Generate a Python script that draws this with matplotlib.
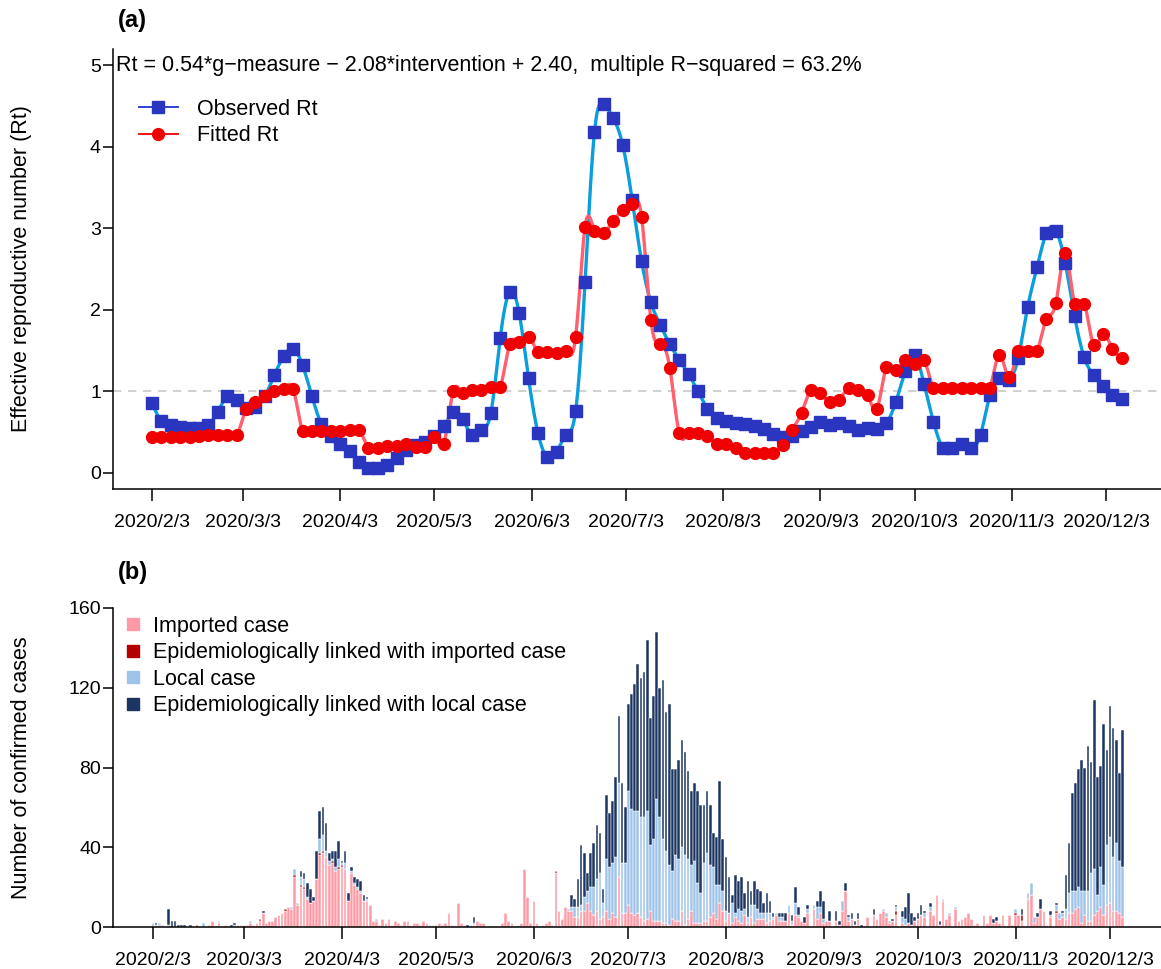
import numpy as np
import pandas as pd
import matplotlib
matplotlib.use("Agg")
import matplotlib.pyplot as plt
from matplotlib.lines import Line2D

plt.rcParams['font.family'] = ['Liberation Sans', 'DejaVu Sans']

# ---- panel (a): Rt every 3 days starting 2020/2/3 ----
start = pd.Timestamp("2020-02-03")
rt_step = 3

observed_rt = [0.86, 0.64, 0.59, 0.56, 0.55, 0.55, 0.59, 0.75, 0.94, 0.89,
               0.80, 0.81, 0.94, 1.20, 1.43, 1.52, 1.32, 0.94, 0.60, 0.45,
               0.36, 0.27, 0.14, 0.06, 0.06, 0.10, 0.18, 0.28, 0.34, 0.38,
               0.45, 0.57, 0.75, 0.66, 0.47, 0.53, 0.74, 1.66, 2.22, 1.96,
               1.16, 0.49, 0.19, 0.26, 0.47, 0.76, 2.34, 4.18, 4.52, 4.35,
               4.02, 3.35, 2.60, 2.09, 1.81, 1.58, 1.39, 1.21, 1.00, 0.79,
               0.67, 0.64, 0.61, 0.60, 0.58, 0.54, 0.48, 0.44, 0.45, 0.51,
               0.56, 0.62, 0.59, 0.61, 0.58, 0.53, 0.55, 0.54, 0.61, 0.87,
               1.25, 1.45, 1.09, 0.63, 0.31, 0.31, 0.36, 0.31, 0.47, 0.96,
               1.16, 1.14, 1.41, 2.03, 2.52, 2.94, 2.97, 2.57, 1.92, 1.42,
               1.20, 1.06, 0.96, 0.91]

fitted_rt = [0.44, 0.44, 0.44, 0.44, 0.44, 0.45, 0.46, 0.46, 0.46, 0.46,
             0.78, 0.87, 0.94, 1.01, 1.03, 1.03, 0.51, 0.51, 0.51, 0.51,
             0.52, 0.53, 0.53, 0.31, 0.31, 0.33, 0.33, 0.36, 0.32, 0.32,
             0.44, 0.36, 1.00, 0.98, 1.02, 1.02, 1.05, 1.05, 1.58, 1.61,
             1.67, 1.48, 1.48, 1.47, 1.49, 1.67, 3.02, 2.97, 2.94, 3.09,
             3.22, 3.30, 3.14, 1.87, 1.58, 1.29, 0.49, 0.49, 0.49, 0.45,
             0.36, 0.36, 0.31, 0.25, 0.25, 0.25, 0.25, 0.34, 0.53, 0.74,
             1.02, 0.98, 0.87, 0.90, 1.04, 1.02, 0.96, 0.79, 1.30, 1.26,
             1.38, 1.34, 1.38, 1.04, 1.04, 1.04, 1.04, 1.04, 1.04, 1.04,
             1.45, 1.18, 1.49, 1.49, 1.49, 1.89, 2.08, 2.69, 2.07, 2.07,
             1.57, 1.70, 1.52, 1.41]

# ---- panel (b): daily confirmed cases from 2020/2/3, ten days per line ----
imported = [
    0, 0, 1, 0, 0, 0, 0, 0, 0, 0,
    0, 0, 0, 0, 0, 0, 0, 0, 1, 3,
    0, 2, 0, 1, 0, 0, 0, 1, 1, 1,
    1, 2, 1, 2, 3, 7, 2, 3, 3, 5,
    6, 7, 8, 10, 9, 25, 11, 20, 19, 14,
    12, 13, 24, 36, 37, 35, 31, 32, 28, 29,
    30, 29, 13, 27, 21, 19, 17, 13, 13, 11,
    3, 3, 1, 4, 2, 4, 1, 3, 2, 1,
    3, 3, 1, 2, 2, 1, 3, 2, 0, 1,
    1, 2, 1, 2, 7, 1, 0, 12, 2, 1,
    0, 0, 1, 3, 2, 2, 0, 0, 0, 0,
    0, 2, 7, 3, 2, 0, 1, 2, 29, 15,
    2, 13, 2, 0, 1, 2, 3, 1, 27, 8,
    4, 10, 8, 8, 5, 5, 8, 8, 12, 8,
    6, 8, 4, 5, 8, 4, 7, 5, 25, 7,
    7, 11, 7, 6, 7, 5, 3, 4, 8, 3,
    3, 3, 2, 2, 1, 4, 3, 3, 8, 1,
    4, 8, 2, 2, 2, 3, 3, 5, 7, 4,
    12, 8, 3, 7, 2, 5, 3, 2, 6, 2,
    5, 2, 4, 4, 4, 2, 3, 4, 6, 3,
    3, 3, 7, 1, 6, 5, 3, 2, 7, 0,
    9, 4, 7, 2, 3, 3, 0, 3, 1, 8,
    18, 3, 4, 1, 4, 0, 0, 5, 0, 6,
    4, 7, 8, 5, 2, 3, 6, 0, 2, 1,
    2, 1, 3, 4, 6, 5, 0, 8, 6, 16,
    1, 13, 4, 6, 0, 9, 3, 4, 5, 7,
    4, 1, 2, 0, 6, 2, 6, 2, 3, 2,
    6, 0, 6, 1, 6, 6, 3, 0, 14, 16,
    2, 5, 9, 8, 1, 5, 0, 7, 4, 5,
    4, 7, 7, 9, 10, 2, 6, 3, 3, 6,
    8, 10, 6, 11, 12, 8, 8, 7, 5,
]
linked_imported = [
    0, 0, 0, 0, 0, 0, 0, 0, 0, 0,
    0, 0, 0, 0, 1, 0, 0, 0, 0, 0,
    0, 0, 0, 0, 0, 0, 0, 0, 0, 0,
    0, 0, 0, 0, 1, 0, 0, 0, 0, 0,
    0, 0, 1, 0, 0, 1, 0, 1, 1, 0,
    0, 0, 0, 1, 1, 0, 0, 1, 0, 1,
    1, 0, 0, 0, 0, 0, 0, 0, 0, 0,
    0, 0, 0, 0, 0, 0, 0, 0, 0, 0,
    0, 0, 0, 0, 0, 0, 0, 0, 0, 0,
    0, 0, 0, 0, 0, 0, 0, 0, 0, 0,
    0, 0, 0, 0, 0, 0, 0, 0, 0, 0,
    0, 0, 0, 0, 0, 0, 0, 0, 0, 0,
    0, 0, 0, 0, 0, 0, 0, 0, 1, 0,
    0, 0, 0, 0, 0, 0, 0, 0, 0, 0,
    0, 0, 0, 0, 0, 0, 0, 0, 0, 0,
    0, 0, 0, 0, 0, 0, 0, 0, 0, 0,
    0, 0, 0, 0, 0, 0, 0, 0, 0, 0,
    0, 0, 0, 0, 0, 0, 0, 0, 0, 0,
    0, 0, 0, 0, 0, 0, 0, 0, 0, 0,
    0, 0, 0, 0, 0, 0, 0, 0, 0, 0,
    0, 0, 0, 0, 0, 0, 0, 0, 0, 0,
    0, 0, 0, 0, 0, 0, 0, 0, 0, 0,
    0, 0, 0, 0, 0, 0, 0, 0, 0, 0,
    0, 0, 0, 0, 0, 0, 2, 0, 0, 0,
    0, 0, 0, 0, 0, 0, 0, 0, 0, 0,
    0, 0, 0, 0, 0, 0, 0, 0, 0, 0,
    0, 0, 0, 0, 0, 0, 0, 0, 0, 0,
    0, 0, 0, 0, 1, 0, 3, 0, 0, 0,
    0, 0, 0, 0, 0, 0, 0, 1, 0, 0,
    0, 0, 0, 0, 0, 0, 0, 0, 0, 0,
    0, 0, 0, 0, 0, 0, 0, 0, 0,
]
local = [
    2, 1, 1, 1, 0, 1, 0, 0, 0, 0,
    0, 0, 0, 0, 0, 0, 2, 0, 0, 0,
    0, 1, 0, 0, 0, 0, 1, 0, 0, 0,
    0, 1, 0, 0, 0, 0, 0, 0, 0, 0,
    0, 0, 0, 0, 1, 3, 1, 4, 4, 1,
    0, 0, 0, 7, 8, 3, 2, 1, 2, 4,
    1, 3, 0, 1, 1, 1, 1, 0, 1, 0,
    0, 1, 0, 0, 0, 0, 0, 0, 0, 0,
    0, 0, 0, 0, 0, 0, 0, 0, 1, 0,
    0, 0, 0, 0, 0, 0, 0, 0, 0, 0,
    0, 1, 1, 0, 0, 0, 0, 0, 0, 0,
    0, 0, 0, 0, 0, 0, 0, 0, 0, 0,
    0, 0, 0, 0, 0, 0, 0, 0, 0, 0,
    0, 0, 1, 2, 5, 5, 3, 7, 6, 12,
    14, 16, 23, 7, 26, 26, 25, 30, 47, 25,
    25, 57, 52, 52, 51, 50, 52, 54, 33, 41,
    61, 52, 42, 36, 30, 24, 33, 31, 32, 35,
    30, 23, 31, 20, 15, 29, 34, 26, 23, 17,
    9, 10, 5, 0, 10, 2, 6, 6, 3, 3,
    6, 9, 5, 3, 3, 5, 4, 1, 1, 2,
    2, 0, 4, 2, 6, 1, 0, 0, 2, 0,
    2, 6, 3, 2, 0, 0, 0, 0, 0, 5,
    0, 2, 0, 0, 0, 0, 0, 0, 0, 0,
    0, 0, 1, 2, 1, 0, 2, 0, 3, 3,
    0, 0, 0, 0, 0, 2, 0, 2, 0, 0,
    0, 1, 0, 1, 0, 1, 0, 0, 0, 0,
    0, 0, 0, 0, 0, 0, 0, 0, 0, 0,
    0, 0, 0, 0, 2, 0, 0, 0, 3, 6,
    3, 0, 0, 0, 0, 1, 0, 3, 3, 2,
    5, 10, 11, 9, 10, 16, 12, 15, 24, 23,
    8, 20, 15, 30, 33, 27, 34, 26, 25,
]
linked_local = [
    0, 1, 0, 0, 0, 8, 3, 3, 1, 1,
    1, 0, 1, 0, 0, 0, 0, 0, 0, 0,
    0, 0, 0, 0, 0, 1, 1, 0, 0, 0,
    0, 0, 0, 0, 0, 1, 0, 0, 0, 0,
    0, 0, 0, 0, 0, 0, 0, 3, 3, 7,
    7, 2, 14, 14, 14, 14, 4, 4, 8, 9,
    1, 6, 4, 2, 3, 4, 5, 3, 1, 0,
    0, 0, 0, 0, 0, 0, 0, 0, 0, 0,
    0, 0, 0, 0, 0, 0, 0, 0, 0, 0,
    0, 0, 0, 0, 0, 0, 0, 0, 0, 0,
    1, 0, 3, 0, 0, 0, 0, 0, 0, 0,
    0, 0, 0, 0, 0, 0, 0, 0, 0, 0,
    0, 0, 0, 0, 0, 0, 0, 0, 0, 0,
    0, 0, 0, 6, 4, 14, 30, 22, 9, 17,
    22, 27, 20, 7, 32, 27, 31, 40, 34, 40,
    28, 44, 58, 64, 74, 70, 73, 86, 64, 72,
    84, 65, 80, 70, 81, 51, 43, 50, 54, 52,
    44, 37, 39, 46, 44, 29, 31, 30, 17, 24,
    52, 26, 27, 18, 4, 19, 14, 17, 8, 18,
    7, 12, 10, 11, 5, 10, 6, 2, 0, 2,
    2, 4, 0, 3, 8, 4, 0, 3, 2, 0,
    0, 3, 8, 9, 0, 5, 0, 5, 2, 0,
    4, 1, 3, 2, 3, 1, 0, 0, 0, 3,
    0, 0, 0, 0, 0, 1, 1, 0, 3, 6,
    15, 6, 2, 3, 5, 1, 0, 2, 0, 0,
    2, 0, 0, 0, 0, 0, 0, 0, 0, 0,
    0, 0, 0, 0, 0, 0, 0, 2, 2, 0,
    0, 0, 0, 0, 0, 0, 3, 0, 0, 0,
    0, 2, 5, 0, 0, 2, 0, 1, 0, 1,
    17, 25, 49, 54, 59, 66, 62, 73, 56, 85,
    59, 51, 81, 48, 66, 65, 52, 44, 69,
]

tick_labels = ["2020/2/3", "2020/3/3", "2020/4/3", "2020/5/3", "2020/6/3", "2020/7/3",
               "2020/8/3", "2020/9/3", "2020/10/3", "2020/11/3", "2020/12/3"]


def natural_spline(x, y, xs):
    # natural cubic spline, only to draw the smooth curve through the points
    n = len(x)
    h = np.diff(x)
    A = np.zeros((n, n))
    r = np.zeros(n)
    A[0, 0] = A[-1, -1] = 1
    for i in range(1, n - 1):
        A[i, i - 1] = h[i - 1]
        A[i, i] = 2 * (h[i - 1] + h[i])
        A[i, i + 1] = h[i]
        r[i] = 3 * ((y[i + 1] - y[i]) / h[i] - (y[i] - y[i - 1]) / h[i - 1])
    c = np.linalg.solve(A, r)
    b = (y[1:] - y[:-1]) / h - h * (2 * c[:-1] + c[1:]) / 3
    d = (c[1:] - c[:-1]) / (3 * h)
    idx = np.clip(np.searchsorted(x, xs) - 1, 0, n - 2)
    dx = xs - x[idx]
    return y[idx] + b[idx] * dx + c[idx] * dx ** 2 + d[idx] * dx ** 3


tick_pos = [(pd.Timestamp(t.replace("/", "-")) - start).days for t in tick_labels]

obs = np.array(observed_rt)
fit = np.array(fitted_rt)
rt_days = np.arange(len(obs)) * rt_step
fine = np.linspace(rt_days[0], rt_days[-1], 1500)

W, H = 1161, 969
fig = plt.figure(figsize=(W / 100, H / 100), dpi=100)

ax1 = fig.add_axes([113 / W, 1 - 489.3 / H, 1048 / W, 440.6 / H])
ax2 = fig.add_axes([113 / W, 1 - 927 / H, 1048 / W, 319 / H])

# ---- panel (a) ----
ax1.axhline(1, color="#c8c8c8", lw=1.2, ls=(0, (5, 4)), zorder=1)
ax1.plot(fine, natural_spline(rt_days, obs, fine), color="#0a9fdc", lw=2.4, zorder=2)
ax1.plot(fine, natural_spline(rt_days, fit, fine), color="#ff5f6e", lw=2.4, zorder=2)
ax1.plot(rt_days, obs, ls="", marker="s", ms=8, color="#2a36c0", zorder=3)
ax1.plot(rt_days, fit, ls="", marker="o", ms=8.5, color="#f00000", zorder=4)

ax1.set_xlim(-12.4, 321.5)
ax1.set_ylim(-0.2, 5.2)
ax1.set_yticks([0, 1, 2, 3, 4, 5])
ax1.set_xticks(tick_pos)
ax1.set_xticklabels(tick_labels)
ax1.set_ylabel("Effective reproductive number (Rt)", fontsize=15.5)
ax1.text(-11.5, 5.0, "Rt = 0.54*g\u2212measure \u2212 2.08*intervention + 2.40,  multiple R\u2212squared = 63.2%",
         fontsize=15.5, va="center", ha="left")

leg_a = [Line2D([], [], color="#2233cc", lw=1.3, marker="s", ms=8,
                markerfacecolor="#2a36c0", markeredgecolor="#2a36c0"),
         Line2D([], [], color="#f00000", lw=1.3, marker="o", ms=8.5)]
ax1.legend(leg_a, ["Observed Rt", "Fitted Rt"], loc="upper left", bbox_to_anchor=(0.0063, 0.93),
           frameon=False, fontsize=15.5, handlelength=1.8, handletextpad=0.9, labelspacing=0.25)

# ---- panel (b) ----
days = np.arange(len(imported))
series = [imported, linked_imported, local, linked_local]
names = ["Imported case", "Epidemiologically linked with imported case",
         "Local case", "Epidemiologically linked with local case"]
colors = ["#ff9aa5", "#b40000", "#9fc4ea", "#1d3563"]
bottom = np.zeros(len(days))
for vals, c in zip(series, colors):
    vals = np.array(vals)
    ax2.bar(days, vals, bottom=bottom, width=0.85, color=c, edgecolor="white", linewidth=0.35)
    bottom += vals

ax2.set_xlim(-12.7, 320.2)
ax2.set_ylim(0, 160)
ax2.set_yticks([0, 40, 80, 120, 160])
ax2.set_xticks(tick_pos)
ax2.set_xticklabels(tick_labels)
ax2.set_ylabel("Number of confirmed cases", fontsize=15.5)

leg_b = [Line2D([], [], ls="", marker="s", ms=8, color=c) for c in colors]
ax2.legend(leg_b, names, loc="upper left", bbox_to_anchor=(-0.0073, 1.036), frameon=False,
           fontsize=15.5, handlelength=0.8, handletextpad=0.53, labelspacing=0.25)

for ax in (ax1, ax2):
    ax.spines["top"].set_visible(False)
    ax.spines["right"].set_visible(False)
    ax.spines["left"].set_linewidth(1.1)
    ax.spines["bottom"].set_linewidth(1.1)
    ax.tick_params(axis="x", direction="out", length=8.5, width=1.1, labelsize=14, pad=9.5)
    ax.tick_params(axis="y", direction="out", length=7.2, width=1.1, labelsize=14, pad=1.5)
    ax.yaxis.set_label_coords(-0.0773, 0.5)

fig.text(118 / W, 1 - 20 / H, "(a)", fontsize=17, fontweight="bold", va="center")
fig.text(118 / W, 1 - 573 / H, "(b)", fontsize=17, fontweight="bold", va="center")

fig.savefig("out.png", dpi=100)
